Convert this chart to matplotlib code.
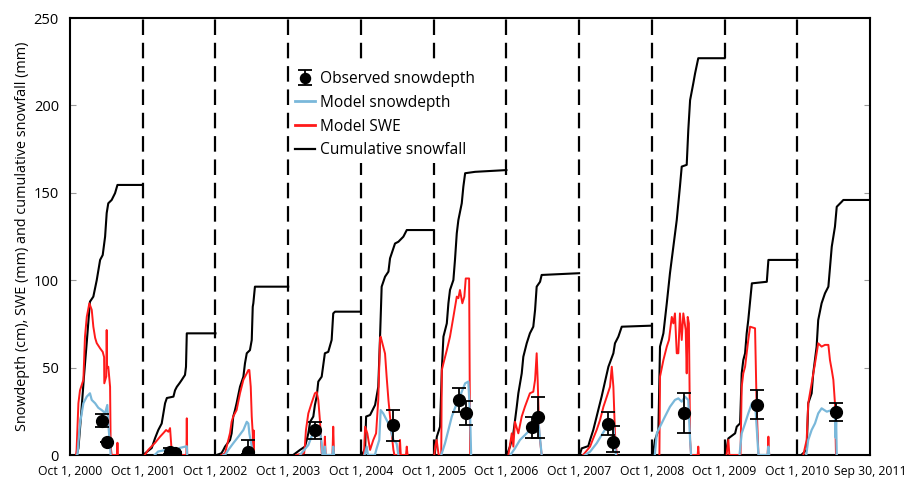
import matplotlib
matplotlib.use("Agg")
import matplotlib.pyplot as plt
from matplotlib.lines import Line2D
import numpy as np

plt.rcParams['font.family'] = ['Open Sans', 'DejaVu Sans']

# ==== DATA (days since Oct 1 of each water year) ====
years = [2000, 2001, 2002, 2003, 2004, 2005, 2006, 2007, 2008, 2009, 2010]
tick_labels = ["Oct 1, 2000", "Oct 1, 2001", "Oct 1, 2002", "Oct 1, 2003", "Oct 1, 2004",
               "Oct 1, 2005", "Oct 1, 2006", "Oct 1, 2007", "Oct 1, 2008", "Oct 1, 2009",
               "Oct 1, 2010", "Sep 30, 2011"]

# cumulative snowfall (mm)
cum_days = [
    [33, 42, 55, 70, 85, 100, 117, 134, 151, 164, 176, 184, 192, 209, 226, 238, 365],
    [3, 12, 45, 62, 78, 95, 112, 121, 154, 162, 171, 184, 196, 212, 217, 221, 365],
    [5, 30, 40, 48, 56, 73, 81, 89, 98, 106, 123, 140, 148, 157, 173, 182, 187, 190, 198, 365],
    [25, 59, 84, 93, 101, 110, 126, 134, 143, 151, 168, 184, 201, 218, 226, 235, 365],
    [5, 21, 26, 46, 71, 87, 96, 104, 121, 138, 146, 171, 188, 213, 230, 365],
    [5, 16, 32, 41, 49, 66, 74, 82, 99, 107, 116, 124, 141, 149, 158, 208, 365],
    [2, 18, 35, 52, 60, 77, 85, 102, 118, 135, 144, 152, 169, 177, 365],
    [3, 13, 46, 55, 71, 88, 96, 113, 130, 147, 172, 180, 197, 214, 365],
    [5, 16, 33, 41, 58, 75, 91, 108, 125, 141, 150, 175, 183, 192, 208, 217, 233, 365],
    [5, 19, 53, 61, 78, 86, 94, 103, 111, 119, 137, 212, 220, 365],
    [20, 47, 55, 72, 80, 97, 105, 122, 139, 156, 173, 189, 198, 223, 231, 365],
]
cum_vals = [
    [0, 3.8, 22, 45, 66, 87.7, 90.6, 100, 111.6, 114.4, 124.9, 138.4, 144, 145.9, 149.8, 154.5, 154.5],
    [0, 1, 4, 9.7, 14.3, 18, 29.6, 32.6, 33.4, 37, 39, 41, 43, 45.8, 50.5, 69.6, 69.6],
    [0, 1, 3, 4.8, 6, 8.6, 12.4, 21.9, 25.7, 29.6, 39, 44.8, 52.4, 58.2, 60, 65.8, 84.8, 86.8, 96.3, 96.3],
    [0, 2.9, 4.8, 8.6, 12.4, 19, 22, 28.6, 33.4, 42, 44.8, 58.2, 59, 65.8, 81, 82, 82],
    [0, 3.8, 22, 22.9, 28.6, 39, 67.7, 96.3, 102, 104.9, 112.5, 121, 122, 124.9, 128.7, 128.7],
    [0, 10.5, 16.2, 48.6, 67.7, 75.3, 86.8, 94.4, 100.1, 111.6, 126.8, 134.4, 144, 153.5, 161.2, 162, 163],
    [0, 4.8, 12.4, 27.6, 35.3, 46.7, 56.2, 63.9, 69.6, 73.4, 83, 96.3, 99.1, 103, 104],
    [0, 3.8, 5.1, 8.6, 14.3, 22, 25.7, 33.4, 42, 50.5, 58.2, 63.9, 67.7, 73.4, 74],
    [0, 8.6, 14.3, 62, 69.6, 86.8, 104, 119.2, 134.4, 153.5, 165, 166, 186, 203, 212.6, 218.3, 227, 227],
    [0, 9.5, 12.4, 16.2, 18.1, 46.7, 54.3, 58.2, 69.6, 77.2, 98.2, 99.1, 111.6, 111.6],
    [0, 2.9, 29.6, 35.3, 46.7, 62, 77.2, 86.8, 92.5, 96.3, 119.2, 130.6, 142, 144.9, 145.9, 145.9],
]

# model SWE (mm)
swe_days = [
    [30, 33, 42, 50, 67, 75, 84, 97, 109, 117, 126, 134, 151, 164, 171, 172, 182, 184, 186, 192, 201, 204, 209, 236, 238, 240],
    [10, 28, 62, 87, 104, 117, 129, 137, 146, 150, 219, 221, 223],
    [30, 48, 73, 81, 89, 106, 123, 140, 157, 165, 170, 177, 182, 187, 190, 192, 193],
    [40, 80, 84, 89, 101, 117, 134, 143, 151, 159, 163, 168, 180, 184, 188, 222, 226, 230],
    [15, 21, 32, 46, 62, 76, 87, 96, 99, 112, 121, 129, 138, 146, 154, 163, 168, 192, 196, 200, 226, 230, 234],
    [3, 8, 15, 25, 38, 41, 49, 66, 82, 99, 116, 124, 132, 144, 154, 161, 178, 183, 188],
    [10, 27, 35, 43, 60, 77, 93, 118, 135, 144, 152, 157, 165, 177],
    [20, 55, 71, 88, 105, 122, 139, 155, 164, 172, 180, 189],
    [38, 41, 58, 75, 86, 100, 108, 116, 125, 133, 141, 150, 158, 170, 175, 180, 186, 192, 197, 230, 233, 236],
    [10, 19, 24, 80, 86, 94, 103, 111, 119, 128, 153, 161, 170, 216, 220, 224],
    [30, 47, 55, 72, 89, 105, 122, 139, 156, 164, 173, 181, 189, 194, 198],
]
swe_vals = [
    [0, 3, 29.6, 37, 43, 67.7, 79, 86.8, 83, 73.4, 67, 64, 61, 59, 56, 41, 45, 71.5, 50, 50.5, 39, 4.8, 0, 0, 7, 0],
    [0, 3, 7, 10.5, 12.6, 14.3, 13.3, 15.4, 1, 0, 0, 21, 0],
    [0, 1, 12.6, 19, 22, 25.7, 35.3, 43, 46.7, 48.6, 48.6, 39, 22, 12.4, 1, 14, 0],
    [0, 1, 5.7, 14.3, 23.8, 29.6, 35.3, 36, 31.5, 20, 12.4, 1, 0, 10.5, 0, 0, 16.2, 0],
    [0, 16.2, 12.4, 2.9, 8.6, 12.4, 31.5, 66.8, 67.7, 62, 58, 44.8, 31.5, 22, 12.4, 2.9, 0, 0, 8.6, 0, 0, 4.8, 0],
    [0, 5, 8.6, 0, 0, 48.6, 52.4, 60, 67.7, 79, 90.6, 89.7, 94.4, 86.8, 90.6, 101, 101, 1, 0],
    [0, 12.4, 4.8, 19, 12.4, 22, 27.6, 35.3, 36.2, 43, 58.2, 43, 12.4, 0],
    [0, 4.8, 9.5, 14.3, 20, 27.6, 33.4, 39, 50.5, 39, 12.4, 0],
    [0, 44.8, 54.3, 62, 65.8, 79, 75.3, 81, 58.2, 58.2, 81, 65.8, 81, 71.5, 46.7, 79, 75.3, 8.6, 0, 0, 4.8, 0],
    [0, 8.6, 0, 0, 39, 46.7, 50.5, 58.2, 65.8, 73.4, 72.5, 27.6, 0, 0, 10.5, 0],
    [0, 8.6, 29.6, 41, 52.4, 63.9, 62, 63, 63, 54.3, 48.6, 43, 29.6, 1, 0],
]

# model snow depth (cm)
depth_days = [
    [35, 37, 50, 67, 84, 100, 109, 126, 142, 159, 176, 187, 192, 201, 204],
    [60, 77, 121, 137, 146, 180, 184, 221, 223],
    [40, 48, 65, 89, 115, 140, 157, 165, 170, 182, 190],
    [59, 101, 117, 134, 159, 168, 172, 180, 184, 188, 222, 226, 230],
    [18, 21, 29, 35, 70, 79, 92, 99, 112, 129, 146, 163, 179, 188],
    [38, 41, 57, 74, 91, 116, 132, 144, 158, 174, 183, 188],
    [20, 43, 68, 93, 118, 144, 155, 165, 177],
    [30, 55, 88, 113, 139, 155, 172, 185],
    [15, 25, 41, 66, 91, 116, 133, 150, 166, 183, 192, 197],
    [75, 86, 103, 119, 137, 153, 170, 216, 220, 224],
    [45, 55, 72, 89, 105, 122, 148, 173, 189, 192, 195, 198],
]
depth_vals = [
    [0, 0, 18, 29.6, 33.4, 35.3, 31.5, 29.6, 27, 25.7, 24, 28.6, 18, 4.8, 0],
    [0, 2, 3, 2, 0, 0, 4, 5, 0],
    [0, 0, 3, 6.7, 10.5, 14.3, 19, 18, 12.4, 4.8, 0],
    [0, 5.7, 10.5, 13.3, 14.3, 6.7, 0, 0, 4.8, 0, 0, 4.8, 0],
    [0, 1, 4.8, 0, 0, 3.8, 8.6, 25.7, 23.8, 20, 16.2, 8.6, 6.7, 0],
    [0, 1, 6.7, 14.3, 22, 29.6, 33.4, 37.1, 41, 42, 22, 0],
    [0, 3.8, 8.6, 11.4, 14.3, 20, 23.8, 14.3, 0],
    [0, 1.9, 6.7, 11.4, 16.2, 19, 16.2, 0],
    [0, 12.4, 16.2, 22, 27.6, 31.5, 32.4, 30.5, 33.4, 31.5, 8.6, 0],
    [0, 12.4, 18.1, 23.8, 29.6, 30.5, 0, 0, 4.8, 0],
    [0, 8.6, 14.3, 18.1, 23.8, 26.7, 24.8, 25.7, 23.8, 10, 20, 0],
]

# observed snow depth (cm) with error range
obs_days = [[159, 184], [137, 162], [165], [134], [163], [129, 161], [130, 160],
            [143, 172], [163], [161], [193]]
obs_vals = [[19.6, 7.6], [2, 1], [1.9], [14.3], [17.2], [31.5, 24.2], [15.8, 21.5],
            [17.7, 7.6], [23.8], [28.6], [24.8]]
obs_lo = [[16.2, 7.6], [0.5, 0.5], [0.5], [9], [8.2], [24.4, 17.2], [10, 10],
          [11.4, 2], [12.4], [20.4], [19.6]]
obs_hi = [[23.3, 7.6], [4, 1.5], [8.6], [19], [26], [38.1, 31], [22, 33],
          [24.8, 16.6], [35.3], [37.2], [30]]

# ==== PLOT ====
fig = plt.figure(figsize=(9.19, 4.79), dpi=100)
ax = fig.add_axes([0.0762, 0.0501, 0.8705, 0.9123])

obs_handle = None
for i in range(len(years)):
    x = i + np.array(cum_days[i]) / 365.0
    ax.plot(x, cum_vals[i], color='black', lw=1.5, zorder=2)
    x = i + np.array(swe_days[i]) / 365.0
    ax.plot(x, swe_vals[i], color='#ff1a1a', lw=1.4, zorder=3)
    x = i + np.array(depth_days[i]) / 365.0
    ax.plot(x, depth_vals[i], color='#7ab8da', lw=1.6, zorder=4)
    x = i + np.array(obs_days[i]) / 365.0
    v = np.array(obs_vals[i])
    yerr = [v - np.array(obs_lo[i]), np.array(obs_hi[i]) - v]
    eb = ax.errorbar(x, v, yerr=yerr, fmt='o', color='black', ms=8.5,
                     capsize=5, elinewidth=1.3, capthick=1.3, zorder=5)
    if obs_handle is None:
        obs_handle = eb

# year separators
for k in range(1, len(years)):
    ax.axvline(k, color='black', lw=1.6, dashes=(7, 3.5), zorder=1)

ax.set_xlim(0, 11)
ax.set_ylim(0, 250)
ax.set_xticks(list(range(11)) + [11])
ax.set_xticklabels(tick_labels, fontsize=8.8)
ax.tick_params(axis='x', length=0, pad=7)
ax.set_yticks([0, 50, 100, 150, 200, 250])
ax.tick_params(axis='y', direction='in', length=4, color='#999999',
               right=True, labelsize=10.5, pad=8)
for s in ax.spines.values():
    s.set_linewidth(1.5)
ax.set_ylabel("Snowdepth (cm), SWE (mm) and cumulative snowfall (mm)", fontsize=10.4, labelpad=3)

# legend
h_dep = Line2D([], [], color='#7ab8da', lw=2)
h_swe = Line2D([], [], color='#ff1a1a', lw=2)
h_cum = Line2D([], [], color='black', lw=1.6)
leg = ax.legend([obs_handle, h_dep, h_swe, h_cum],
                ["Observed snowdepth", "Model snowdepth", "Model SWE", "Cumulative snowfall"],
                loc='upper left', bbox_to_anchor=(0.266, 0.907), fontsize=11.2,
                frameon=True, facecolor='white', edgecolor='none', framealpha=1,
                handlelength=1.3, handletextpad=0.3, labelspacing=0.5, borderpad=0.3,
                markerscale=0.85)
leg.set_zorder(6)

fig.savefig("out.png", dpi=100)
